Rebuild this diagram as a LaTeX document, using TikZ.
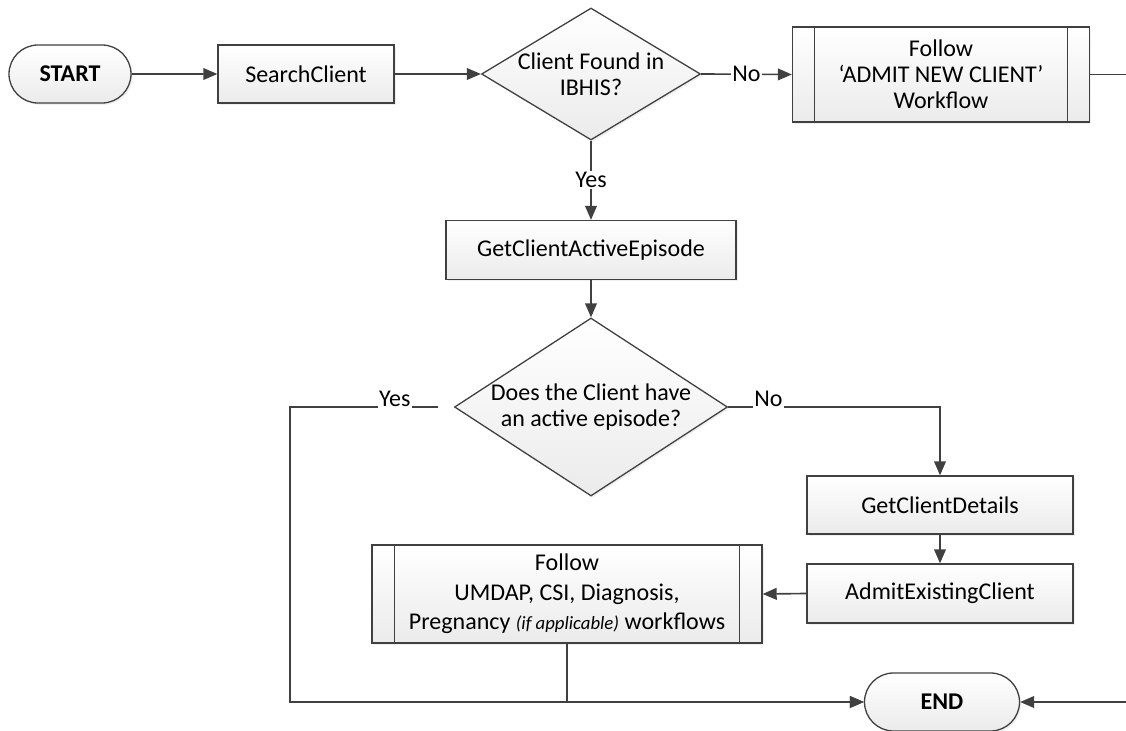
\documentclass[tikz,border=0pt]{standalone}
\usepackage{fontspec}
\setmainfont{Carlito}
\usetikzlibrary{arrows.meta,shapes.geometric,shapes.misc,shadows}
\definecolor{trait}{HTML}{404040}
\definecolor{fond}{HTML}{EBEBEB}

\begin{document}
\begin{tikzpicture}[x=0.3mm,y=-0.3mm,font=\fontsize{20.5}{22}\selectfont]
\tikzset{boite/.style={draw=trait, line width=1.1pt, rectangle, top color=white, bottom color=fond, drop shadow={shadow xshift=1.5pt, shadow yshift=-1.5pt, opacity=.12}, align=center, inner sep=0pt, minimum width=79.8mm, minimum height=17.4mm},
capsule/.style={boite, rounded rectangle, font=\fontsize{20.5}{22}\selectfont\bfseries},
losange/.style={boite, diamond},
sousproc/.style={boite, path picture={
  \draw[trait, line width=1.1pt] ([xshift=6.7mm]path picture bounding box.north west) -- ([xshift=6.7mm]path picture bounding box.south west);
  \draw[trait, line width=1.1pt] ([xshift=-6.7mm]path picture bounding box.north east) -- ([xshift=-6.7mm]path picture bounding box.south east);}},
fleche/.style={draw=trait, line width=1.4pt, -{Triangle[length=12pt, width=10pt]}},
lbl/.style={fill=white, inner sep=1pt},
lblhaut/.style={lbl, anchor=base}}
\clip (0,0) rectangle (1126,731);
\fill[white] (0,0) rectangle (1126,731);
\node[capsule, minimum width=36.6mm] (Start) at (70,74) {START};
\node[boite, minimum width=52.8mm] (Search) at (306,74) {SearchClient};
\node[losange, aspect=1.66, minimum width=65.7mm, minimum height=39.6mm] (Q1) at (591,74) {Client Found in\\IBHIS?};
\node[sousproc, minimum width=89.1mm, minimum height=28.5mm] (Adm) at (941,74.5) {Follow\\‘ADMIT NEW CLIENT’\\Workflow};
\node[boite, minimum width=87mm, minimum height=17.7mm] (Epi) at (591,250) {GetClientActiveEpisode};
\node[losange, aspect=1.53, minimum width=81.9mm, minimum height=53.4mm] (Q2) at (591,407) {Does the Client have\\an active episode?};
\node[boite] (Det) at (940,505) {GetClientDetails};
\node[boite, minimum height=17.7mm] (Exi) at (940,593.5) {AdmitExistingClient};
\node[sousproc, minimum width=117mm, minimum height=29.4mm] (Flw) at (567,594) {Follow\\[3pt]UMDAP, CSI, Diagnosis,\\[3pt]Pregnancy {\fontsize{16}{22}\selectfont\itshape (if applicable)} workflows};
\node[capsule, minimum width=46.5mm] (Fin) at (942,702) {END};
\coordinate (Coin) at (290,702);
\coordinate (Droite) at (1150,400);
\draw[fleche] (Start) -- (Search);
\draw[fleche] (Search) -- (Q1.west);
\draw[fleche] (Q1.east) -- node[lbl]{No} (Adm.west);
\draw[fleche] (Q1.south) -- node[lbl]{Yes} (Epi.north);
\draw[fleche] (Epi.south) -- (Q2.north);
\draw[fleche] (Q2.east) -- node[pos=.19, lblhaut]{No} (Q2.east -| Det.north) -- (Det.north);
\draw[fleche] (Det) -- (Exi);
\draw[fleche] (Exi.west) -- (Flw.east);
\draw[fleche] (Flw.south) |- (Fin.west);
\draw[fleche, shorten <=4.8mm] (Q2.west) -- node[pos=.36, lblhaut]{Yes} (Q2.west -| Coin) -- (Coin) -- (Fin.west);
\draw[fleche] (Adm.east) -| (Droite) |- (Fin.east);
\end{tikzpicture}
\end{document}
